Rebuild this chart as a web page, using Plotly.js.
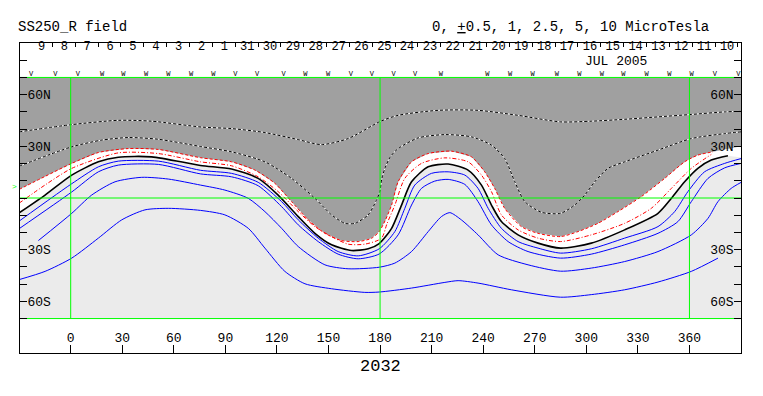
<!DOCTYPE html>
<html><head><meta charset="utf-8">
<script src="https://cdn.plot.ly/plotly-3.0.1.min.js"></script>
<style>html,body{margin:0;padding:0;background:#fff}</style>
</head><body><div id="chart" style="width:763px;height:396px"></div>
<script>
// ---- data (longitude / latitude, degrees) ----
const D1_LON = [-30, 0.6, 27.7, 47.1, 76, 93.6, 113.0, 132.4, 145.9, 161.4, 180, 190.5, 213.8, 237.0, 260.3, 285, 302.9, 322.3, 341.7, 361, 380.5, 390];
const D1_LAT = [38.4, 42.6, 45.1, 44.6, 41.2, 40.3, 38.0, 33.9, 31.0, 34.5, 44.4, 48.0, 50.9, 50.9, 48.0, 44.2, 44.6, 45.7, 47.1, 48.5, 50, 50.3];
const D2_LON = [-30, 0.6, 18.0, 33.5, 51.0, 75.5, 93.6, 113.0, 128.5, 142.1, 151.8, 159.5, 165.3, 173.1, 178.0, 179.9, 181.0, 182.8, 186, 190.5, 202.2, 217.7, 233.2, 244.8, 252.5, 258.4, 264.2, 273.9, 285, 293.2, 299.1, 304.9, 312.6, 322.3, 341.7, 361.1, 380.5, 390];
const D2_LAT = [18.5, 29.7, 33.6, 35.1, 34.1, 29.9, 26.8, 21.0, 11.4, -0.2, -9.8, -14.7, -14.7, -9.8, -1, 3.7, 11, 17.2, 24, 28.7, 34.9, 36.8, 35.5, 30.7, 22.9, 9.4, -2.1, -8.3, -8.9, -4.1, 1.7, 9.4, 17.2, 21.0, 27.8, 34.5, 37.4, 38.4];
const R1_LON = [-30, -15, 0.6, 16.1, 33.5, 51.0, 75.5, 93.6, 107.2, 118.8, 128.5, 138.2, 147.9, 157.6, 167.3, 175.0, 179.5, 183, 186.7, 190.5, 198.3, 208.0, 221.5, 233.2, 240.9, 246.7, 252.5, 262.2, 271.9, 285, 295.2, 306.8, 318.4, 332.0, 345.6, 357.2, 364.9, 373.7];
const R1_LAT = [5, 12.5, 20.1, 26.4, 28.7, 28.2, 23.4, 21.0, 16.2, 8.5, -2.1, -12.7, -20.5, -24.7, -25.3, -23.4, -19.5, -13, -4.1, 9.4, 21.0, 25.8, 27.2, 23.9, 15.2, 5.6, -6.0, -16.6, -20.5, -22.4, -19.5, -14.7, -7.9, 0.8, 11.4, 21.0, 24.9, 26.8];
const R1_EDGE_END = [390, 30];
const R2_LON = [-30, -15, 0.6, 27.7, 51.0, 75.5, 93.6, 109.1, 120.7, 132.4, 142.1, 151.8, 161.4, 171.1, 180.8, 184, 188.6, 194.4, 204.1, 217.7, 231.2, 239.0, 244.8, 250.6, 260.3, 271.9, 285, 302.9, 322.3, 337.8, 349.5, 361.1, 372.7];
const R2_LAT = [-3, 7.5, 17.2, 26.2, 25.8, 21.0, 18.7, 12.3, 3.7, -7.9, -16.6, -22.4, -26.8, -26.8, -23.4, -15, -4.1, 11.4, 20.1, 23.3, 21.0, 13.3, 3.7, -9.8, -18.5, -23.3, -25.3, -21.4, -14.7, -6.0, 5.6, 17.2, 25.3];
const K_LON = [-30.4, -14.9, 0.6, 16.1, 27.7, 47.1, 75.5, 93.6, 109.1, 120.7, 132.4, 142.1, 151.8, 163.4, 173.1, 179.5, 186.7, 192.5, 198.3, 208.0, 219.6, 231.2, 239.0, 244.8, 250.6, 260.3, 271.9, 285, 302.9, 322.3, 341.7, 349.5, 357.2, 364.9, 372.7, 382.4];
const K_LAT = [-8.9, 1.7, 13.3, 21.0, 23.7, 23.9, 18.9, 16.8, 11.4, 1.7, -10.8, -20.5, -27.2, -30.5, -29.5, -26.5, -17.6, -4.1, 9.4, 18.1, 19.7, 16.2, 7.5, -4.1, -13.7, -21.4, -26.2, -29.1, -26.2, -18.5, -8.9, -0.2, 9.4, 17.2, 22.0, 24.5];
const K_EDGE_END = [390, 23.5];
const B1_LON = [-30.4, -11.0, 0.6, 16.1, 27.7, 51.0, 75.5, 93.6, 109.1, 122.7, 132.4, 144.0, 155.6, 167.3, 179.5, 188.6, 194.4, 200.2, 209.9, 219.6, 229.3, 237.0, 242.9, 250.6, 260.3, 271.9, 285, 302.9, 322.3, 341.7, 351.4, 359.1, 368.8, 380.5, 390.1];
const B1_LAT = [-13.7, 0.2, 8.3, 18.1, 21.4, 21.4, 16.1, 14.3, 9.1, -2.1, -12.7, -23.3, -31.1, -33.6, -29.5, -19.5, -6.0, 7.5, 14.3, 15.2, 13.3, 5.6, -6.0, -17.6, -25.3, -29.1, -32.0, -29.5, -23.3, -16.6, -7.9, 3.7, 15.2, 20.1, 22.9];
const B2_LON = [-30.4, 0.6, 16.1, 27.7, 51.0, 75.5, 93.6, 109.1, 122.7, 132.4, 144.0, 155.6, 167.3, 179.5, 190.5, 198.3, 204.1, 211.8, 219.6, 229.3, 237.0, 244.8, 254.5, 266.1, 285, 302.9, 322.3, 341.7, 353.3, 361.1, 370.8, 380.5, 390.1];
const B2_LAT = [-18.1, 3.5, 15.2, 19.1, 19.5, 14.0, 12.3, 7.1, -5.0, -15.6, -25.3, -32.6, -35.3, -32.5, -21.4, -4.1, 5.6, 9.8, 10.8, 7.9, -2.1, -15.6, -25.3, -31.1, -34.9, -32.6, -27.2, -20.5, -13.7, -2.1, 11.4, 17.5, 20.1];
const B3_LON = [-18.8, 0.6, 12.2, 25.8, 41.3, 56.8, 75.5, 89.7, 103.3, 113.0, 122.7, 132.4, 147.9, 161.4, 179.5, 188.6, 198.3, 208.0, 215.7, 220.6, 227.3, 237.0, 248.7, 266.1, 285, 302.9, 322.3, 341.7, 361.1, 370.8, 376.6, 384.3, 390.1];
const B3_LAT = [-24.7, -8.9, 1.7, 9.4, 12.0, 11.0, 7.5, 4.6, -0.2, -7.9, -17.6, -28.2, -38.8, -41.1, -40.2, -37.8, -31.1, -19.5, -10.8, -8.5, -12.7, -21.4, -33.0, -38.8, -42.5, -40.7, -36.9, -31.1, -21.4, -11.8, -2.1, 5.6, 9.1];
const B4_LON = [-30.4, -14.9, 0.6, 16.1, 29.7, 43.2, 56.8, 75.5, 89.7, 103.3, 113.0, 124.6, 136.3, 151.8, 171.1, 179.5, 198.3, 217.7, 225.4, 237.0, 256.4, 285, 302.9, 322.3, 341.7, 361.1, 376.6];
const B4_LAT = [-47.5, -42.6, -34.9, -23.3, -12.7, -6.9, -6.0, -7.2, -9.8, -17.6, -29.1, -42.6, -49.8, -52.7, -54.8, -54.6, -52.3, -49.0, -48.0, -49.4, -53.3, -57.6, -56.1, -53.3, -48.8, -42.6, -34.9];

const DAY_TICK_LON = [-24.0, -10.7, 2.6, 15.9, 29.2, 42.5, 55.8, 69.1, 82.4, 95.7, 109.0, 122.3, 135.6, 148.9, 162.2, 175.5, 188.7, 202.0, 215.3, 228.6, 241.9, 255.2, 268.5, 281.8, 295.1, 308.4, 321.7, 335.0, 348.3, 361.6, 374.9, 388.2];
const DAY_LABELS = ['9','8','7','6','5','4','3','2','1','31','30','29','28','27','26','25','24','23','22','21','20','19','18','17','16','15','14','13','12','11','10'];
const MARK_LON = [-23.0, -8.9, 4.1, 18.3, 30.6, 43.8, 56.8, 70.0, 83.0, 95.8, 108.4, 123.8, 136.5, 149.8, 163.0, 175.2, 187.8, 200.4, 215.3, 242.4, 255.6, 268.8, 282.8, 295.9, 309.0, 321.5, 335.1, 348.3, 361.3, 374.8, 388.4];
const MARK_SYM = ['V','V','V','W','W','W','W','W','W','V','V','V','W','W','V','V','V','V','W','W','W','W','W','W','W','W','W','W','W','V','V'];

const X_TICKS = [0, 30, 60, 90, 120, 150, 180, 210, 240, 270, 300, 330, 360];
const Y_TICKS = [-80, -70, -60, -50, -40, -30, -20, -10, 0, 10, 20, 30, 40, 50, 60, 70, 80];
const Y_LABELS = ['', '', '60S', '', '', '30S', '', '', '', '', '', '30N', '', '', '60N', '', ''];
const GRID_LON = [0, 180, 360];
const GRID_LAT = [-70, 0, 70];

// ---- layout constants ----
const LON_RANGE = [-29.5, 390];
const MAP_TOP = 70, MAP_BOT = -70;
const FONT = 'Liberation Mono, DejaVu Sans Mono, monospace';
const DARK = '#a0a0a0', LIGHT = '#ebebeb';

function line(xs, ys, color, width, dash) {
  return {x: xs, y: ys, type: 'scatter', mode: 'lines', hoverinfo: 'skip',
    line: {color: color, width: width, dash: dash || 'solid', shape: 'spline', smoothing: 0.7}};
}

const traces = [];
// white region above neutral line
traces.push({x: K_LON.concat([K_EDGE_END[0], K_EDGE_END[0], K_LON[0]]),
  y: K_LAT.concat([K_EDGE_END[1], MAP_TOP, MAP_TOP]),
  type: 'scatter', mode: 'none', fill: 'toself', fillcolor: '#ffffff', hoverinfo: 'skip'});
// dark grey region
traces.push({x: R1_LON.concat([R1_EDGE_END[0], R1_EDGE_END[0], R1_LON[0]]),
  y: R1_LAT.concat([R1_EDGE_END[1], MAP_TOP, MAP_TOP]),
  type: 'scatter', mode: 'none', fill: 'toself', fillcolor: DARK, hoverinfo: 'skip'});

traces.push(line(B4_LON, B4_LAT, '#0000ff', 1));
traces.push(line(B3_LON, B3_LAT, '#0000ff', 1));
traces.push(line(B2_LON, B2_LAT, '#0000ff', 1));
traces.push(line(B1_LON, B1_LAT, '#0000ff', 1));
traces.push(line(K_LON, K_LAT, '#000000', 1.6));
traces.push(line(R2_LON, R2_LAT, '#ff0000', 1, '4px,2px,1px,2px'));
traces.push(line(R1_LON, R1_LAT, '#ff0000', 1, '3px,2px'));
traces.push(line(D2_LON, D2_LAT, '#ffffff', 1));
traces.push(line(D2_LON, D2_LAT, '#000000', 1, '3px,2px'));
traces.push(line(D1_LON, D1_LAT, '#ffffff', 1));
traces.push(line(D1_LON, D1_LAT, '#000000', 1, '3px,2px'));

// green reference grid
const gx = [], gy = [];
GRID_LON.forEach(v => { gx.push(v, v, null); gy.push(MAP_BOT, MAP_TOP, null); });
GRID_LAT.forEach(v => { gx.push(LON_RANGE[0], LON_RANGE[1], null); gy.push(v, v, null); });
traces.push({x: gx, y: gy, type: 'scatter', mode: 'lines', hoverinfo: 'skip',
  line: {color: '#00ff00', width: 1}});

// day labels
traces.push({x: DAY_LABELS.map((d, i) => DAY_TICK_LON[i] + 7), y: DAY_LABELS.map(() => 87.6),
  text: DAY_LABELS, type: 'scatter', mode: 'text', cliponaxis: false, hoverinfo: 'skip',
  textfont: {family: FONT, size: 12, color: '#000'}});
// V / W markers
traces.push({x: MARK_LON, y: MARK_LON.map(() => 72.0), text: MARK_SYM, type: 'scatter', mode: 'text',
  cliponaxis: false, hoverinfo: 'skip', textfont: {family: FONT, size: 7, color: '#000'}});

// dummy traces to activate the extra axes
traces.push({x: [null], y: [null], xaxis: 'x2', yaxis: 'y', type: 'scatter', mode: 'lines', hoverinfo: 'skip'});
traces.push({x: [null], y: [null], xaxis: 'x', yaxis: 'y2', type: 'scatter', mode: 'lines', hoverinfo: 'skip'});

const tickFont = {family: FONT, size: 13, color: '#000'};
const layout = {
  width: 763, height: 396,
  margin: {l: 20, r: 22, t: 43, b: 43, pad: 0},
  paper_bgcolor: '#ffffff', plot_bgcolor: '#ffffff',
  showlegend: false,
  font: {family: FONT, color: '#000'},
  xaxis: {range: LON_RANGE, showline: true, linecolor: '#000', linewidth: 1, mirror: true,
    ticks: 'inside', tickvals: X_TICKS, ticktext: X_TICKS.map(String), ticklen: 8, tickcolor: '#000',
    ticklabelposition: 'inside', tickfont: tickFont, showgrid: false, zeroline: false},
  xaxis2: {range: LON_RANGE, overlaying: 'x', side: 'top', anchor: 'y', showline: false,
    ticks: 'inside', tickvals: DAY_TICK_LON, ticklen: 4, tickcolor: '#000', showticklabels: false,
    showgrid: false, zeroline: false},
  yaxis: {range: [-90, 90], showline: true, linecolor: '#000', linewidth: 1,
    ticks: 'inside', tickvals: Y_TICKS, ticktext: Y_LABELS, ticklen: 7, tickcolor: '#000',
    ticklabelposition: 'inside', tickfont: tickFont, showgrid: false, zeroline: false},
  yaxis2: {range: [-90, 90], overlaying: 'y', side: 'right', anchor: 'x', showline: true,
    linecolor: '#000', linewidth: 1,
    ticks: 'inside', tickvals: Y_TICKS, ticktext: Y_LABELS, ticklen: 7, tickcolor: '#000',
    ticklabelposition: 'inside', tickfont: tickFont, showgrid: false, zeroline: false},
  shapes: [{type: 'rect', xref: 'x', yref: 'y', x0: LON_RANGE[0], x1: LON_RANGE[1], y0: MAP_BOT, y1: MAP_TOP,
    fillcolor: LIGHT, line: {width: 0}, layer: 'below'}],
  annotations: [
    {text: 'SS250_R field', xref: 'paper', yref: 'paper', x: -0.0055, y: 1.0516, xanchor: 'left', yanchor: 'middle',
      showarrow: false, font: {family: FONT, size: 14, color: '#000'}},
    {text: '0, <u>+</u>0.5, 1, 2.5, 5, 10 MicroTesla', xref: 'paper', yref: 'paper', x: 0.958, y: 1.0516,
      xanchor: 'right', yanchor: 'middle', showarrow: false, font: {family: FONT, size: 14, color: '#000'}},
    {text: 'JUL 2005', xref: 'x', yref: 'y', x: 317, y: 79.2, xanchor: 'center', yanchor: 'middle',
      showarrow: false, font: {family: FONT, size: 13, color: '#000'}},
    {text: '2032', xref: 'x', yref: 'paper', x: 180, y: -0.042, xanchor: 'center', yanchor: 'middle',
      showarrow: false, font: {family: FONT, size: 17, color: '#000'}},
    {text: '>', xref: 'paper', yref: 'y', x: 0, y: 6.5, xanchor: 'right', yanchor: 'middle', xshift: -1,
      showarrow: false, font: {family: FONT, size: 8, color: '#00ff00'}}
  ]
};

Plotly.newPlot('chart', traces, layout, {staticPlot: true, displayModeBar: false});
</script></body></html>
